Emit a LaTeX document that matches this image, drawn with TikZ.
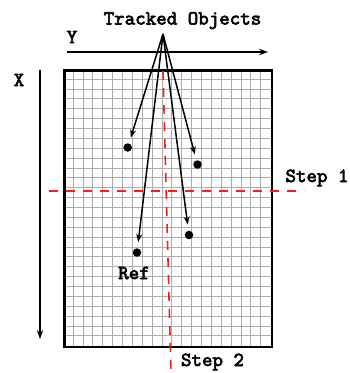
\documentclass[tikz,border=0pt]{standalone}
\usepackage{fontspec}
\newfontfamily\lbfont{lmmono10-regular}[Extension=.otf, FakeBold=3]
\usetikzlibrary{arrows.meta}
\begin{document}
\begin{tikzpicture}[x=1pt,y=-1pt,
  lbl/.style={font=\lbfont\fontsize{20}{20}\selectfont, inner sep=0pt},
  gridline/.style={black!32, line width=0.9pt},
  frame/.style={black, line width=2.2pt},
  axis/.style={black, line width=1.4pt, -{Stealth[length=9pt,width=6.5pt]}},
  track/.style={black, line width=1.5pt, -{Stealth[length=8pt,width=6pt]}, shorten >=6pt},
  redline/.style={red!90!white, line width=1.6pt, dash pattern=on 9pt off 8pt},
  obj/.style={circle, fill=black, inner sep=0pt, minimum size=8.5pt}]
\useasboundingbox (0,0) rectangle (350,373);
\fill[white] (0,0) rectangle (350,373);
% grid
\foreach \i in {1,...,20} {\draw[gridline] ({63.3+\i*207.4/21},69.3) -- ({63.3+\i*207.4/21},345.7);}
\foreach \j in {1,...,27} {\draw[gridline] (63.3,{69.3+\j*276.4/28}) -- (270.7,{69.3+\j*276.4/28});}
\node[draw, frame, minimum width=207.4pt, minimum height=276.4pt, inner sep=0pt, anchor=north west] (board) at (63.3,69.3) {};
% red steps
\coordinate (s1a) at (49,191);
\coordinate (s1b) at (304,191);
\coordinate (s2a) at (163,71);
\coordinate (s2b) at (171,373);
\draw[redline] (s1a) -- (s1b);
\draw[redline] (s2a) -- (s2b);
% axes
\coordinate (ya) at (67,52);
\coordinate (yb) at (268,52);
\draw[axis] (ya) -- (yb);
\coordinate (xa) at (40,70);
\coordinate (xb) at (40,339);
\draw[axis] (xa) -- (xb);
\node[lbl] (ylab) at (72,37) {Y};
\node[lbl] (xlab) at (19,80) {X};
% labels
\node[lbl, anchor=base] (title) at (182.5,24.5) {Tracked Objects};
\node[lbl] (step1) at (317,178) {Step 1};
\node[lbl] (step2) at (212.5,362) {Step 2};
\node[lbl] (ref) at (134,273) {Ref};
% objects
\coordinate (apex) at (163,34);
\node[obj] (o1) at (127.7,147.5) {};
\node[obj] (o2) at (197.5,164.5) {};
\node[obj] (o3) at (189,235) {};
\node[obj] (o4) at (137,252.5) {};
\draw[track] (apex) -- (o1);
\draw[track] (apex) -- (o2);
\draw[track] (apex) -- (o3);
\draw[track] (apex) -- (o4);
\end{tikzpicture}
\end{document}
